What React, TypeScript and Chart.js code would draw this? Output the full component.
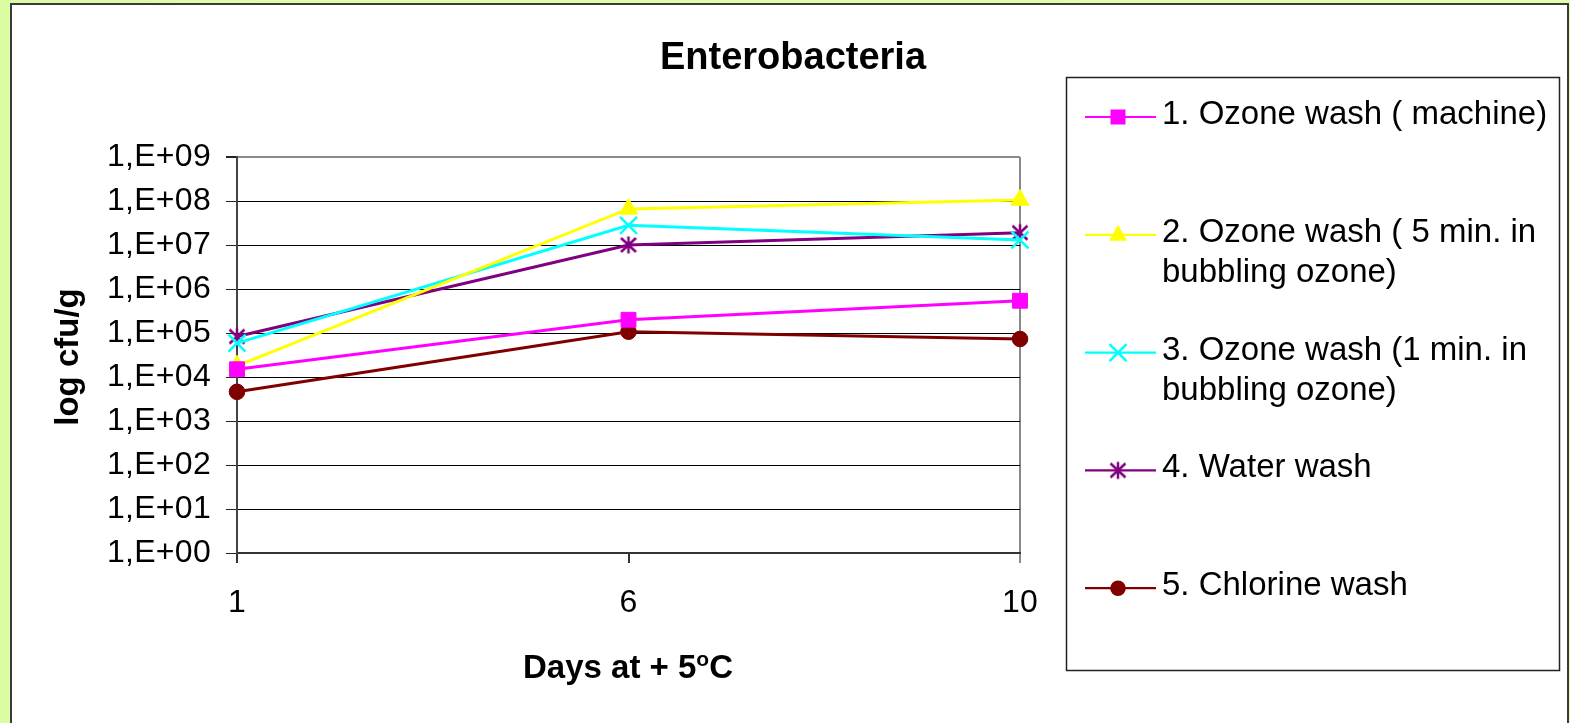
import React, { useEffect, useRef } from 'react';
import { Chart, registerables } from 'chart.js';

Chart.register(...registerables);

// ---- data ----
const days = ['1', '6', '10'];
const ozoneMachine = [1.5e4, 2.0e5, 5.4e5];
const ozoneFiveMin = [1.8e4, 6.6e7, 1.05e8];
const ozoneOneMin = [5.9e4, 2.8e7, 1.3e7];
const waterWash = [8.3e4, 1.0e7, 1.9e7];
const chlorineWash = [4.6e3, 1.07e5, 7.3e4];
const yTickValues = [1, 1e1, 1e2, 1e3, 1e4, 1e5, 1e6, 1e7, 1e8, 1e9];

const legendLines = [
  ['1. Ozone wash ( machine)'],
  ['2. Ozone wash ( 5 min. in', 'bubbling ozone)'],
  ['3. Ozone wash (1 min. in', 'bubbling ozone)'],
  ['4. Water wash'],
  ['5. Chlorine wash'],
];
const seriesValues = [ozoneMachine, ozoneFiveMin, ozoneOneMin, waterWash, chlorineWash];
const seriesColors = ['#FF00FF', '#FFFF00', '#00FFFF', '#800080', '#800000'];
const markerKinds = ['rect', 'triangle', 'crossRot', 'asterisk', 'circle'];

const FONT = "'Liberation Sans', Arial, sans-serif";

function makeAsterisk(color: string): HTMLCanvasElement {
  const c = document.createElement('canvas');
  c.width = 20;
  c.height = 20;
  const g = c.getContext('2d')!;
  g.strokeStyle = color;
  g.lineWidth = 2.5;
  g.beginPath();
  g.moveTo(10, 1.5);
  g.lineTo(10, 18.5);
  g.moveTo(2.5, 3);
  g.lineTo(17.5, 17);
  g.moveTo(17.5, 3);
  g.lineTo(2.5, 17);
  g.stroke();
  return c;
}

function drawMarker(ctx: CanvasRenderingContext2D, kind: string, x: number, y: number, color: string, star: HTMLCanvasElement) {
  ctx.save();
  ctx.fillStyle = color;
  ctx.strokeStyle = color;
  if (kind === 'rect') {
    ctx.fillRect(x - 7.5, y - 7.5, 15, 15);
  } else if (kind === 'triangle') {
    ctx.beginPath();
    ctx.moveTo(x, y - 10);
    ctx.lineTo(x - 9, y + 6);
    ctx.lineTo(x + 9, y + 6);
    ctx.closePath();
    ctx.fill();
  } else if (kind === 'crossRot') {
    ctx.lineWidth = 2.5;
    ctx.beginPath();
    ctx.moveTo(x - 8.5, y - 8.5);
    ctx.lineTo(x + 8.5, y + 8.5);
    ctx.moveTo(x + 8.5, y - 8.5);
    ctx.lineTo(x - 8.5, y + 8.5);
    ctx.stroke();
  } else if (kind === 'asterisk') {
    ctx.drawImage(star, x - 10, y - 10);
  } else {
    ctx.beginPath();
    ctx.arc(x, y, 7.8, 0, Math.PI * 2);
    ctx.fill();
  }
  ctx.restore();
}

export default function App() {
  const ref = useRef<HTMLCanvasElement>(null);

  useEffect(() => {
    document.body.style.margin = '0';
    const canvas = ref.current!;
    const star = makeAsterisk(seriesColors[3]);

    const pointStyles: any[] = ['rect', 'triangle', 'crossRot', star, 'circle'];
    const pointRadii = [10.5, 10.5, 12, 10, 7.8];

    const datasets = seriesValues.map((vals, i) => ({
      label: legendLines[i].join(' '),
      data: vals,
      borderColor: seriesColors[i],
      backgroundColor: seriesColors[i],
      borderWidth: 3,
      pointStyle: pointStyles[i],
      pointRadius: pointRadii[i],
      pointBorderWidth: markerKinds[i] === 'crossRot' ? 2.5 : 1,
      pointBorderColor: seriesColors[i],
      pointBackgroundColor: seriesColors[i],
      tension: 0,
      clip: false as any,
    }));

    const decor = {
      id: 'decor',
      beforeDraw(chart: any) {
        (chart.ctx as any).letterSpacing = '0.3px';
      },
      afterDraw(chart: any) {
        const ctx: CanvasRenderingContext2D = chart.ctx;
        ctx.save();
        ctx.fillStyle = '#000';
        (ctx as any).letterSpacing = '0px';

        // Title
        ctx.font = `bold 38px ${FONT}`;
        ctx.textAlign = 'center';
        ctx.textBaseline = 'alphabetic';
        ctx.fillText('Enterobacteria', 793, 69);

        // Y axis title
        ctx.font = `bold 33px ${FONT}`;
        ctx.save();
        ctx.translate(78, 357);
        ctx.rotate(-Math.PI / 2);
        ctx.textAlign = 'center';
        ctx.fillText('log cfu/g', 0, 0);
        ctx.restore();

        // X axis title with superscript o
        const part1 = 'Days at + 5';
        const sup = 'o';
        const part2 = 'C';
        ctx.textAlign = 'left';
        ctx.font = `bold 33px ${FONT}`;
        const w1 = ctx.measureText(part1).width;
        const w3 = ctx.measureText(part2).width;
        ctx.font = `bold 21px ${FONT}`;
        const w2 = ctx.measureText(sup).width;
        const total = w1 + w2 + w3;
        const x0 = 628 - total / 2;
        const base = 678;
        ctx.font = `bold 33px ${FONT}`;
        ctx.fillText(part1, x0, base);
        ctx.font = `bold 21px ${FONT}`;
        ctx.fillText(sup, x0 + w1, base - 12);
        ctx.font = `bold 33px ${FONT}`;
        ctx.fillText(part2, x0 + w1 + w2, base);

        // Legend box
        ctx.strokeStyle = '#222';
        ctx.lineWidth = 1.5;
        ctx.strokeRect(1066.5, 77.5, 493, 593);

        ctx.font = `33px ${FONT}`;
        ctx.textAlign = 'left';
        chart.data.datasets.forEach((ds: any, i: number) => {
          const y = 117 + i * 117.8;
          ctx.strokeStyle = ds.borderColor;
          ctx.lineWidth = 2.2;
          ctx.beginPath();
          ctx.moveTo(1085, y);
          ctx.lineTo(1156, y);
          ctx.stroke();
          drawMarker(ctx, markerKinds[i], 1118, y, ds.borderColor, star);
          ctx.fillStyle = '#000';
          legendLines[i].forEach((line, j) => {
            ctx.fillText(line, 1162, y + 7 + j * 40);
          });
        });
        ctx.restore();
      },
    };

    const chart = new Chart(canvas, {
      type: 'line',
      data: { labels: days, datasets: datasets as any },
      options: {
        responsive: false,
        animation: false,
        devicePixelRatio: 1,
        layout: { padding: { left: 0, top: 157, right: 550, bottom: 100 } },
        plugins: {
          legend: { display: false },
          title: { display: false },
          tooltip: { enabled: false },
        },
        scales: {
          x: {
            type: 'category',
            offset: false,
            grid: {
              color: (c: any) => (c.index === 2 ? '#8a8a8a' : 'rgba(0,0,0,0)'),
              lineWidth: 2,
              tickColor: (c: any) => (c.index === 2 ? '#8a8a8a' : '#333'),
              tickLength: 10,
              drawTicks: true,
            },
            border: { color: '#333', width: 2 },
            ticks: {
              color: '#000',
              font: { family: FONT, size: 32 },
              padding: 21,
              maxRotation: 0,
              autoSkip: false,
            },
            afterFit: (s: any) => {
              s.height = 70;
            },
          },
          y: {
            type: 'logarithmic',
            min: 1,
            max: 1e9,
            afterBuildTicks: (s: any) => {
              s.ticks = yTickValues.map((v) => ({ value: v }));
            },
            grid: {
              color: (c: any) => (c.tick && c.tick.value === 1e9 ? '#8a8a8a' : '#000'),
              lineWidth: (c: any) => (c.tick && c.tick.value === 1e9 ? 2 : 1),
              tickColor: '#222',
              tickLength: 11,
              drawTicks: true,
            },
            border: { color: '#444', width: 2 },
            ticks: {
              color: '#000',
              font: { family: FONT, size: 32 },
              padding: 15,
              autoSkip: false,
              callback: (v: any) => {
                const e = Math.round(Math.log10(Number(v)));
                return '1,E+' + String(e).padStart(2, '0');
              },
            },
            afterFit: (s: any) => {
              s.width = 237;
            },
          },
        },
      },
      plugins: [decor],
    });
    return () => chart.destroy();
  }, []);

  return (
    <div
      style={{
        position: 'relative',
        width: 1570,
        height: 723,
        overflow: 'hidden',
        background: 'linear-gradient(90deg, #dbfca3 0%, #e2fdb0 100%)',
      }}
    >
      <div
        style={{
          position: 'absolute',
          left: 10,
          top: 3,
          width: 1559,
          height: 740,
          boxSizing: 'border-box',
          border: '2px solid #3a3a3a',
          background: '#fff',
        }}
      />
      <canvas
        ref={ref}
        width={1570}
        height={723}
        style={{ position: 'absolute', left: 0, top: 0, width: 1570, height: 723 }}
      />
    </div>
  );
}
